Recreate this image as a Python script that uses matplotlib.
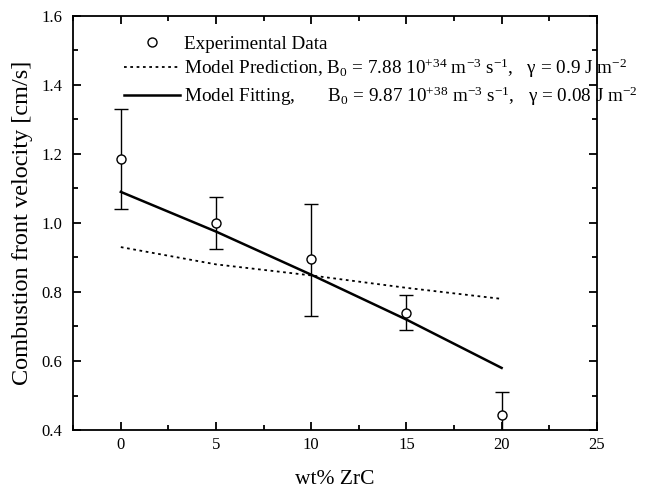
import matplotlib
matplotlib.use("Agg")
import matplotlib.pyplot as plt
from matplotlib.ticker import MultipleLocator
from matplotlib.lines import Line2D

plt.rcParams['font.family'] = ['Liberation Serif', 'DejaVu Serif']
plt.rcParams['mathtext.fontset'] = 'custom'
plt.rcParams['mathtext.rm'] = 'Liberation Serif'
plt.rcParams['mathtext.it'] = 'Liberation Serif:italic'
plt.rcParams['mathtext.bf'] = 'Liberation Serif:bold'

# Data
exp_x = [0, 5, 10, 15, 20]
exp_y = [1.185, 1.0, 0.895, 0.74, 0.445]
err_low = [0.145, 0.075, 0.165, 0.05, 0.065]
err_high = [0.145, 0.075, 0.16, 0.05, 0.065]

model_x = [0, 5, 10, 15, 20]
pred_y = [0.93, 0.88, 0.848, 0.812, 0.78]
fit_y = [1.09, 0.975, 0.85, 0.72, 0.58]

fig = plt.figure(figsize=(6.48, 4.96), dpi=100)
ax = fig.add_axes([0.113, 0.133, 0.808, 0.835])

ax.errorbar(exp_x, exp_y, yerr=[err_low, err_high], fmt='o', color='black',
            mfc='white', mec='black', ms=6.5, mew=1.0, elinewidth=1.0,
            capsize=5, capthick=1.0, label='Experimental Data', zorder=3)
ax.plot(model_x, pred_y, linestyle=(0, (1.5, 2)), color='black', lw=1.3,
        label=r'Model Prediction, B$_0$ = 7.88 10$^{+34}$ m$^{-3}$ s$^{-1}$,   γ = 0.9 J m$^{-2}$')
ax.plot(model_x, fit_y, '-', color='black', lw=1.8,
        label=r'Model Fitting,       B$_0$ = 9.87 10$^{+38}$ m$^{-3}$ s$^{-1}$,   γ = 0.08 J m$^{-2}$')

ax.set_xlim(-2.5, 25)
ax.set_ylim(0.4, 1.6)
ax.xaxis.set_major_locator(MultipleLocator(5))
ax.xaxis.set_minor_locator(MultipleLocator(2.5))
ax.yaxis.set_major_locator(MultipleLocator(0.2))
ax.yaxis.set_minor_locator(MultipleLocator(0.1))
ax.yaxis.set_major_formatter(plt.FormatStrFormatter('%.1f'))
ax.tick_params(which='both', direction='in', top=True, right=True, labelsize=12, width=1.3)
ax.tick_params(which='major', length=6)
ax.tick_params(which='minor', length=3.5)
ax.tick_params(axis='y', pad=8)
ax.tick_params(axis='x', pad=5)
for s in ax.spines.values():
    s.set_linewidth(1.3)

ax.set_xlabel('wt% ZrC', fontsize=15.5, labelpad=12)
ax.set_ylabel('Combustion front velocity [cm/s]', fontsize=17.5, labelpad=6)

handles, labels = ax.get_legend_handles_labels()
h_exp = Line2D([], [], marker='o', ls='none', mfc='white', mec='black', ms=6.5, mew=1.0)
leg = ax.legend([h_exp, handles[0], handles[1]], [labels[2], labels[0], labels[1]],
                loc='upper left', bbox_to_anchor=(0.083, 0.972), frameon=False,
                fontsize=13.8, handlelength=2.9, handletextpad=0.2, labelspacing=0.22,
                borderaxespad=0)

fig.savefig('out.png', dpi=100)
